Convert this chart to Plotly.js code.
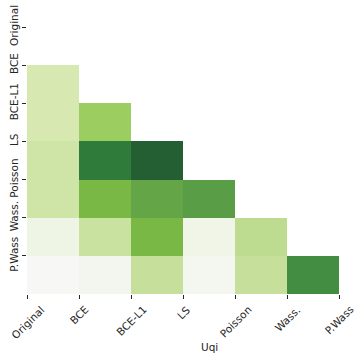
<!DOCTYPE html>
<html>
<head>
<meta charset="utf-8">
<script src="https://cdn.plot.ly/plotly-3.0.1.min.js"></script>
<style>html,body{margin:0;padding:0;background:#fff;}#chart{width:355px;height:360px;}</style>
</head>
<body>
<div id="chart"></div>
<script>
const labels = ['Original', 'BCE', 'BCE-L1', 'LS', 'Poisson', 'Wass.', 'P.Wass'];
const rowOriginal = [null, null, null, null, null, null, null];
const rowBCE      = [0.25, null, null, null, null, null, null];
const rowBCEL1    = [0.25, 0.50, null, null, null, null, null];
const rowLS       = [0.30, 0.90, 1.00, null, null, null, null];
const rowPoisson  = [0.30, 0.60, 0.68, 0.72, null, null, null];
const rowWass     = [0.10, 0.33, 0.60, 0.08, 0.38, null, null];
const rowPWass    = [0.00, 0.04, 0.35, 0.03, 0.35, 0.80, null];
const uqi = [rowOriginal, rowBCE, rowBCEL1, rowLS, rowPoisson, rowWass, rowPWass];
const tickPositions = labels.map((_, i) => i);

const colorscale = [
  [0.00, '#f7f7f5'],
  [0.10, '#eef5e4'],
  [0.25, '#d7e8b1'],
  [0.35, '#c6e09c'],
  [0.50, '#9bcd60'],
  [0.60, '#7ab845'],
  [0.70, '#5ea247'],
  [0.80, '#438d42'],
  [0.90, '#2e7b3a'],
  [1.00, '#235f33']
];

const trace = {
  type: 'heatmap',
  z: uqi,
  x0: 0.5, dx: 1,
  y0: 0.5, dy: 1,
  zmin: 0, zmax: 1,
  colorscale: colorscale,
  showscale: false,
  hoverongaps: false
};

const font = {family: '"DejaVu Sans", Verdana, sans-serif', size: 10.5, color: '#262626'};

const xLabelAnnotations = labels.map((lab, i) => ({
  text: lab, xref: 'x', yref: 'paper', x: tickPositions[i], y: -0.026,
  xanchor: 'center', yanchor: 'top', textangle: -45, showarrow: false, font: font
}));

const layout = {
  width: 355, height: 360,
  margin: {l: 27, r: 0, t: 27, b: 66, pad: 0},
  paper_bgcolor: '#fff', plot_bgcolor: '#fff',
  font: font,
  xaxis: {
    range: [0, 328 / 52],
    tickvals: tickPositions, showticklabels: false,
    ticks: 'outside', ticklen: 4, tickwidth: 1, tickcolor: '#262626',
    showgrid: false, zeroline: false, showline: false
  },
  yaxis: {
    range: [7, 0],
    tickvals: tickPositions, ticktext: labels,
    tickangle: -90, ticks: 'outside', ticklen: 4, tickwidth: 1, tickcolor: '#262626',
    showgrid: false, zeroline: false, showline: false, tickfont: font
  },
  annotations: xLabelAnnotations.concat([{
    text: 'Uqi', xref: 'x', yref: 'paper', x: 3.5, y: -0.1985,
    xanchor: 'center', yanchor: 'middle', showarrow: false, font: font
  }])
};

Plotly.newPlot('chart', [trace], layout, {displayModeBar: false, staticPlot: true});
</script>
</body>
</html>
